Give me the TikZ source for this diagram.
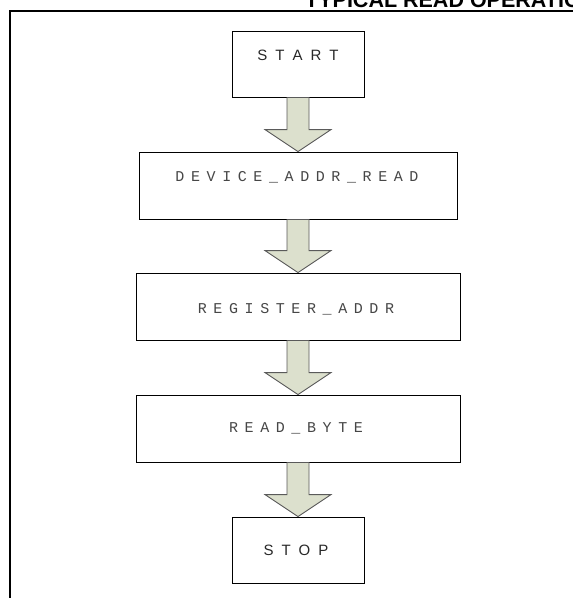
\documentclass[tikz,border=0pt]{standalone}
\usepackage{fontspec}
\setmainfont{Liberation Sans}
\newfontfamily\monof{Liberation Mono}
\usetikzlibrary{calc}
\makeatletter
\newcommand\spreadtxt[2]{\def\sp@sep{}\@tfor\sp@ch:=#2\do{\sp@sep\sp@ch\def\sp@sep{\kern#1}}}
\makeatother
\definecolor{arrowfill}{RGB}{220,224,205}
\definecolor{arrowline}{RGB}{90,90,90}
\definecolor{txtgray}{RGB}{40,40,40}
\definecolor{monogray}{RGB}{70,70,70}
\tikzset{
  box/.style={draw=black, line width=0.9pt, fill=white, rectangle, inner sep=0pt, minimum height=66pt},
  sanslbl/.style={text=txtgray, inner sep=0pt, font=\fontsize{15}{18}\selectfont},
  monolbl/.style={text=monogray, inner sep=0pt, font=\monof\fontsize{15}{18}\selectfont},
  flowarrow/.style={fill=arrowfill, draw=arrowline, line width=0.9pt, line join=miter},
  frameline/.style={draw=black, line width=2pt},
}
\newcommand\flowarrow[2]{%
  \filldraw[flowarrow] ($(#1.south)+(-11,0)$) -- ($(#2.north)+(-11,-22)$) -- ($(#2.north)+(-33,-22)$) -- (#2.north)
    -- ($(#2.north)+(33,-22)$) -- ($(#2.north)+(11,-22)$) -- ($(#1.south)+(11,0)$) -- cycle;}
\begin{document}
\begin{tikzpicture}[x=1pt, y=-1pt]
\useasboundingbox (0,0) rectangle (573,598);
\clip (0,0) rectangle (573,598);
\fill[white] (0,0) rectangle (573,598);
\node[anchor=base west, inner sep=0pt, font=\bfseries\fontsize{21.5}{25}\selectfont] (title) at (305,7) {TYPICAL READ OPERATION};
\draw[frameline] (10,610) -- (10,11) -- (580,11);
\node[box, minimum width=132pt, label={[sanslbl, yshift=9pt]center:\spreadtxt{8pt}{START}}] (start) at (298,64) {};
\node[box, minimum width=318pt, minimum height=67pt, label={[monolbl, yshift=8pt, xshift=-1pt]center:\spreadtxt{6.6pt}{DEVICE\_ADDR\_READ}}] (dev) at (298,185.5) {};
\node[box, minimum width=324pt, minimum height=67pt, label={[monolbl, yshift=-2.5pt, xshift=-2pt]center:\spreadtxt{6.6pt}{REGISTER\_ADDR}}] (reg) at (298,306.5) {};
\node[box, minimum width=324pt, minimum height=67pt, label={[monolbl, xshift=-2pt]center:\spreadtxt{6.6pt}{READ\_BYTE}}] (rb) at (298,428.5) {};
\node[box, minimum width=132pt, label={[sanslbl, xshift=-2pt]center:\spreadtxt{8pt}{STOP}}] (stop) at (298,550) {};
\flowarrow{start}{dev}
\flowarrow{dev}{reg}
\flowarrow{reg}{rb}
\flowarrow{rb}{stop}
\end{tikzpicture}
\end{document}
